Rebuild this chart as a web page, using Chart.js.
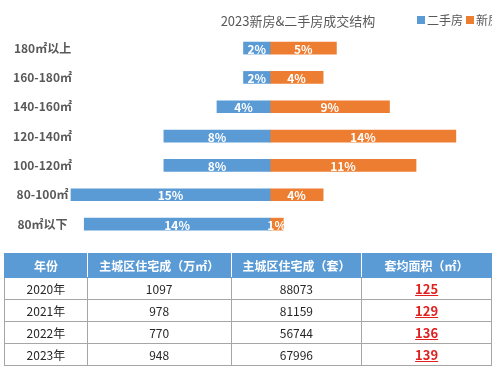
<!DOCTYPE html>
<html>
<head>
<meta charset="utf-8">
<script src="https://cdn.jsdelivr.net/npm/chart.js@4/dist/chart.umd.min.js"></script>
<style>
  body { margin: 0; background: #fff; font-family: "Noto Sans CJK SC", sans-serif; }
  #wrap { position: relative; width: 500px; height: 375px; overflow: hidden; }
  #chartBox { position: absolute; left: 0; top: 0; width: 500px; height: 254px; }
  table { position: absolute; left: 4px; top: 253px; width: 488px; border-collapse: collapse; font-size: 12px; color: #262626; }
  th { background: #5b9bd5; color: #fff; font-weight: bold; height: 23px; padding: 0; border: 1px solid #5b9bd5; border-right-color: #ffffff; }
  th:last-child { border-right-color: #5b9bd5; }
  td { text-align: center; height: 21px; padding: 0; border: 1px solid #a6a6a6; }
  td.avg { color: #e0201f; font-weight: bold; text-decoration: underline; font-size: 13px; }
</style>
</head>
<body>
<div id="wrap">
  <div id="chartBox"><canvas id="myChart"></canvas></div>
  <table id="tbl"></table>
</div>
<script>
var sizeLabels = ["180㎡以上", "160-180㎡", "140-160㎡", "120-140㎡", "100-120㎡", "80-100㎡", "80㎡以下"];
var usedShare = [2, 2, 4, 8, 8, 15, 14];   // 二手房 %
var newShare = [5, 4, 9, 14, 11, 4, 1];    // 新房 %

var tableHead = ["年份", "主城区住宅成（万㎡）", "主城区住宅成（套）", "套均面积（㎡）"];
var years = ["2020年", "2021年", "2022年", "2023年"];
var areaWan = [1097, 978, 770, 948];
var units = [88073, 81159, 56744, 67996];
var avgArea = [125, 129, 136, 139];

var BLUE = "#5b9bd5";
var ORANGE = "#ed7d31";
var FONT = "'Noto Sans CJK SC', sans-serif";

// table
var tbl = document.getElementById("tbl");
var html = "<colgroup><col style='width:83px'><col style='width:144px'><col style='width:131px'><col style='width:130px'></colgroup><tr>";
tableHead.forEach(function (h) { html += "<th>" + h + "</th>"; });
html += "</tr>";
for (var i = 0; i < years.length; i++) {
  html += "<tr><td>" + years[i] + "</td><td>" + areaWan[i] + "</td><td>" + units[i] + "</td><td class='avg'>" + avgArea[i] + "</td></tr>";
}
tbl.innerHTML = html;

// labels inside bars
var barLabels = {
  id: "barLabels",
  afterDatasetsDraw: function (chart) {
    var ctx = chart.ctx;
    ctx.save();
    ctx.font = "bold 12px " + FONT;
    ctx.fillStyle = "#fff";
    ctx.textAlign = "center";
    ctx.textBaseline = "middle";
    chart.data.datasets.forEach(function (ds, di) {
      chart.getDatasetMeta(di).data.forEach(function (bar, i) {
        var p = bar.getProps(["x", "y", "base"], true);
        ctx.fillText(Math.abs(ds.data[i]) + "%", (p.x + p.base) / 2, p.y + 1);
      });
    });
    ctx.restore();
  }
};

// title + legend in the top strip (legend cut at the frame edge like the original)
var header = {
  id: "header",
  afterDraw: function (chart) {
    var ctx = chart.ctx;
    ctx.save();
    ctx.textBaseline = "middle";
    ctx.fillStyle = "#595959";
    ctx.font = "13px " + FONT;
    ctx.textAlign = "center";
    ctx.fillText("2023新房&二手房成交结构", 298, 21);
    ctx.beginPath();
    ctx.rect(0, 0, 492, 40);
    ctx.clip();
    ctx.textAlign = "left";
    ctx.font = "12px " + FONT;
    var x = 417;
    chart.data.datasets.forEach(function (ds) {
      ctx.fillStyle = ds.backgroundColor;
      ctx.fillRect(x, 16, 8, 8);
      ctx.fillStyle = "#595959";
      ctx.fillText(ds.label, x + 10, 20.5);
      x += 10 + ctx.measureText(ds.label).width + 3;
    });
    ctx.restore();
  }
};

var ctx = document.getElementById("myChart");
var myChart = new Chart(ctx, {
  type: "bar",
  data: {
    labels: sizeLabels,
    datasets: [
      {
        label: "二手房",
        data: usedShare.map(function (v) { return -v; }),
        backgroundColor: BLUE,
        barThickness: 12,
        clip: false
      },
      {
        label: "新房",
        data: newShare,
        backgroundColor: ORANGE,
        barThickness: 12,
        clip: false
      }
    ]
  },
  options: {
    indexAxis: "y",
    maintainAspectRatio: false,
    responsive: true,
    animation: false,
    layout: { padding: { top: 33.4, bottom: 7.4, right: 5, left: 0 } },
    plugins: {
      legend: { display: false },
      title: { display: false },
      tooltip: { enabled: false }
    },
    scales: {
      x: {
        stacked: true,
        min: -14.32,
        max: 16.95,
        display: false
      },
      y: {
        stacked: true,
        grid: { display: false, drawTicks: false },
        border: { display: false },
        ticks: {
          color: "#595959",
          font: { family: FONT, size: 12, weight: "bold" },
          crossAlign: "center",
          padding: 8
        },
        afterFit: function (scale) { scale.width = 80; }
      }
    }
  },
  plugins: [barLabels, header]
});
</script>
</body>
</html>
